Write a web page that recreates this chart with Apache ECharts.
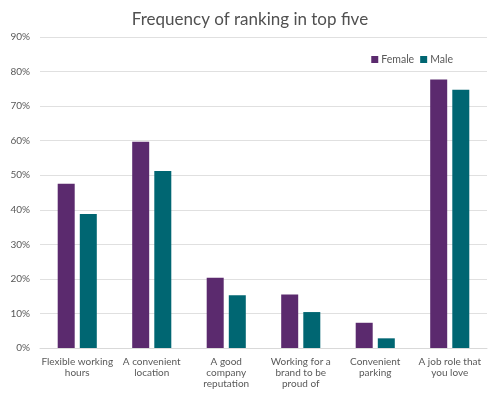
<!DOCTYPE html>
<html>
<head>
<meta charset="utf-8">
<script src="https://cdn.jsdelivr.net/npm/echarts@6/dist/echarts.min.js"></script>
<style>html,body{margin:0;padding:0;background:#fff}#c{width:500px;height:395px}</style>
</head>
<body>
<div id="c"></div>
<script>
const categories = ["Flexible working\nhours", "A convenient\nlocation", "A good\ncompany\nreputation", "Working for a\nbrand to be\nproud of", "Convenient\nparking", "A job role that\nyou love"];
const female = [47.5, 59.7, 20.3, 15.5, 7.3, 77.7];
const male = [38.8, 51.2, 15.3, 10.4, 2.8, 74.7];
const seriesNames = ["Female", "Male"];
const colors = ["#5B2A6E", "#006672"];
const font = "Lato, 'Noto Sans', sans-serif";

const chart = echarts.init(document.getElementById('c'));
chart.setOption({
  animation: false,
  color: colors,
  title: {
    text: "Frequency of ranking in top five",
    left: 'center', top: 6,
    textStyle: {fontFamily: font, fontSize: 17, fontWeight: 'normal', color: '#505050'}
  },
  legend: {
    data: seriesNames,
    right: 42, top: 49,
    itemWidth: 7, itemHeight: 7, itemGap: 6,
    icon: 'rect',
    textStyle: {fontFamily: font, fontSize: 10.5, color: '#595959', padding: [0,0,0,-2]}
  },
  grid: {left: 40, right: 13, top: 37, bottom: 47},
  xAxis: {
    type: 'category', data: categories,
    axisTick: {show: false},
    axisLine: {lineStyle: {color: '#d9d9d9'}},
    axisLabel: {interval: 0, fontFamily: font, fontSize: 10, color: '#595959', lineHeight: 11, margin: 8}
  },
  yAxis: {
    type: 'value', min: 0, max: 90, interval: 10,
    axisLabel: {formatter: '{value}%', fontFamily: font, fontSize: 10, color: '#595959', margin: 10},
    splitLine: {lineStyle: {color: '#e0e0e0'}},
    axisLine: {show: false}, axisTick: {show: false}
  },
  series: [
    {name: seriesNames[0], type: 'bar', data: female, barWidth: 17, barGap: '30%'},
    {name: seriesNames[1], type: 'bar', data: male, barWidth: 17, barGap: '30%'}
  ]
});
</script>
</body>
</html>
